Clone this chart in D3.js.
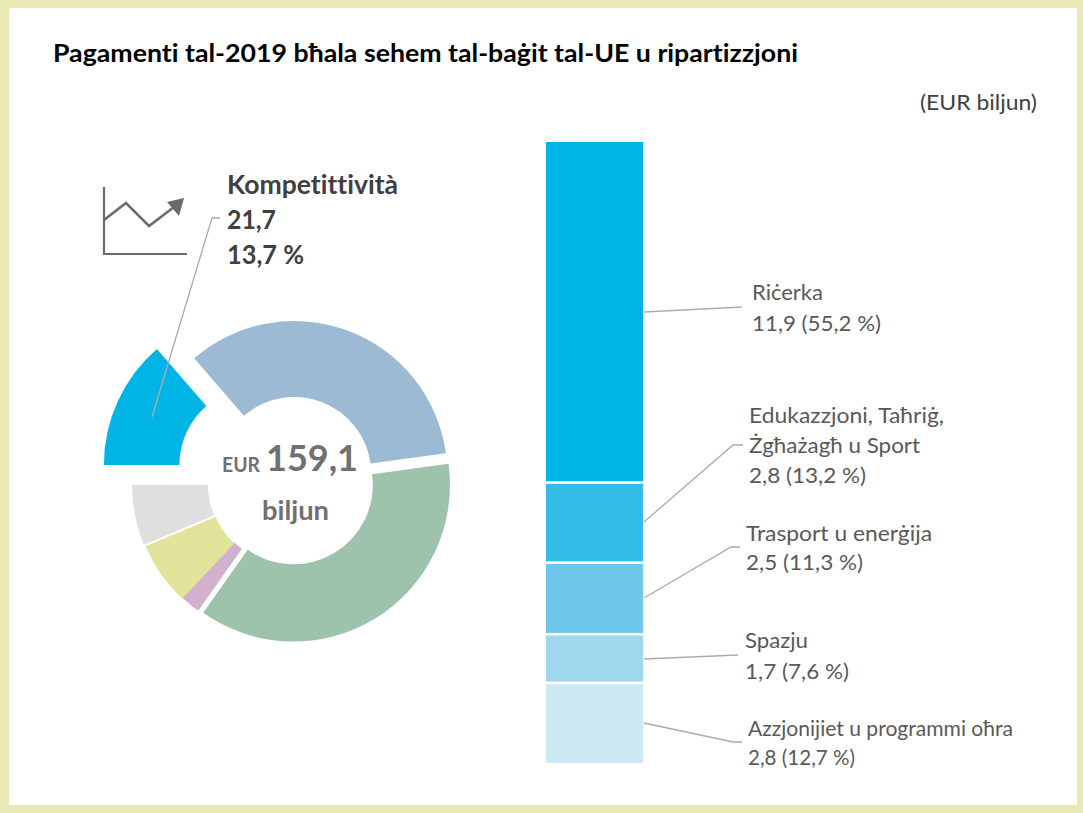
<!DOCTYPE html>
<html><head><meta charset="utf-8">
<script src="https://cdn.jsdelivr.net/npm/d3@7"></script>
<style>html,body{margin:0;padding:0;background:#fff}svg{display:block}text{font-family:Lato,"Open Sans",sans-serif;font-variant-ligatures:none}</style>
</head><body><div id="c"></div>
<script>
const donutNames=["Kompetittività","Koeżjoni","Riżorsi naturali","Sigurtà","Ewropa Globali","Amministrazzjoni"];
const donutValues=[21.7,54.4,58.8,3.5,10.6,10.1];
const donutColors=["#00b5e6","#9cbad3","#9dc3ad","#d4b0cf","#e2e49b","#dfdfdf"];
const donutDx=[-33.6,3.3,2.5,-4,-3.5,-5];
const donutDy=[-15,-6,5,5,6.5,5];
const donutOuter=[153.5,153,156.5,154,154,154];
const donutInner=[78,77,79.3,78,78,78];
const barNames=["Riċerka","Edukazzjoni","Trasport","Spazju","Azzjonijiet"];
const barValues=[11.9,2.8,2.5,1.7,2.8];
const barColors=["#00b5e6","#33bce6","#6ec7ea","#9fd7ef","#cde9f4"];

const W=1083,H=813;
const svg=d3.select("#c").append("svg").attr("width",W).attr("height",H);
svg.append("rect").attr("width",W).attr("height",H).attr("fill","#e9e9b5");
svg.append("rect").attr("x",9).attr("y",8).attr("width",1068).attr("height",797).attr("fill","#fff");

function label(x,y,t,size,weight,fill,len){
  const e=svg.append("text").attr("x",x).attr("y",y).attr("font-size",size).attr("font-weight",weight)
    .attr("fill",fill).text(t);
  if(len) e.attr("textLength",len).attr("lengthAdjust","spacingAndGlyphs");
  return e;
}
label(53,62,"Pagamenti tal-2019 bħala sehem tal-baġit tal-UE u ripartizzjoni",25.5,700,"#000",745);
label(920,110,"(EUR biljun)",21.5,400,"#404040",117);

// donut
const cx=291,cy=480;
const pie=d3.pie().sort(null).startAngle(-Math.PI/2).endAngle(1.5*Math.PI);
const arc=d3.arc().innerRadius(d=>donutInner[d.index]).outerRadius(d=>donutOuter[d.index]);
svg.append("g").selectAll("path").data(pie(donutValues)).join("path")
  .attr("d",arc).attr("fill",(d,i)=>donutColors[i])
  .attr("transform",(d,i)=>`translate(${cx+donutDx[i]},${cy+donutDy[i]})`);

// stacked bar
const y=d3.scaleLinear().domain([0,d3.sum(barValues)]).range([142,763]);
const cum=d3.cumsum(barValues);
svg.append("g").selectAll("rect").data(barValues).join("rect")
  .attr("x",546).attr("width",97)
  .attr("y",(d,i)=>y(cum[i]-d)+(i?1.3:0))
  .attr("height",(d,i)=>y(cum[i])-y(cum[i]-d)-(i?1.3:0)-(i<barValues.length-1?1.3:0))
  .attr("fill",(d,i)=>barColors[i]);

// leaders
const line=d3.line();
[[[152,417],[212,218],[220,218]],
 [[644,312],[742,307]],
 [[644,522],[733,445],[743,445]],
 [[644,598],[731,547],[740,547]],
 [[644,659],[738,655]],
 [[644,723],[733,742],[742,742]]].forEach(p=>svg.append("path").attr("d",line(p)).attr("fill","none").attr("stroke","#ababab").attr("stroke-width",1.3));

// icon
const ic="#6b6b6b";
svg.append("path").attr("d",line([[104,187],[104,254],[187,254]])).attr("fill","none").attr("stroke",ic).attr("stroke-width",2.2);
svg.append("path").attr("d",line([[104,220],[126,203],[149,226],[178,204]])).attr("fill","none").attr("stroke",ic).attr("stroke-width",2.6);
svg.append("path").attr("d",line([[184,198],[167,202],[179,216]])+"Z").attr("fill",ic);

// callout
const dk="#404040";
label(227,194,"Kompetittività",26,700,dk,171);
label(227,229,"21,7",26,700,dk,49);
label(227,264,"13,7 %",26,700,dk,77);
const gr="#707070";
label(222,472,"EUR",20,700,gr,38);
label(266,471,"159,1",37,700,gr,92);
label(262,520,"biljun",26.5,700,gr,67);

const lb="#595959";
[[752,300,"Riċerka",71],[752,331,"11,9 (55,2 %)",129],
 [749,423,"Edukazzjoni, Taħriġ,",195],[749,453,"Żgħażagħ u Sport",171],[749,483,"2,8 (13,2 %)",117],
 [746,541,"Trasport u enerġija",186],[746,570,"2,5 (11,3 %)",117],
 [745,648,"Spazju",63],[745,679,"1,7 (7,6 %)",104],
 [748,736,"Azzjonijiet u programmi oħra",265],[748,765,"2,8 (12,7 %)",107]]
 .forEach(a=>label(a[0],a[1],a[2],21.5,400,lb,a[3]));
</script></body></html>
